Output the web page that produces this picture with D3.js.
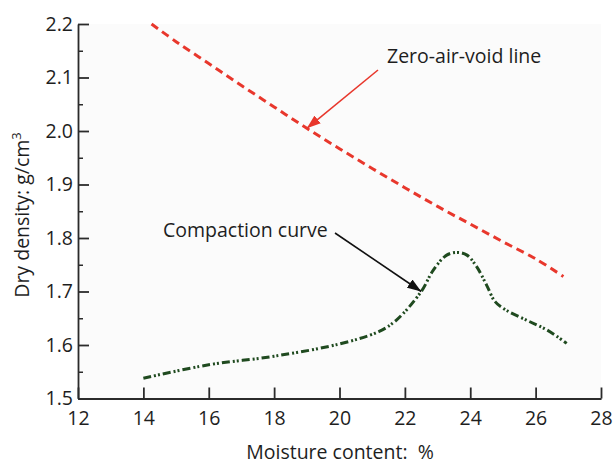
<!DOCTYPE html>
<html>
<head>
<meta charset="utf-8">
<script src="https://cdn.jsdelivr.net/npm/d3@7"></script>
<style>
  html, body { margin: 0; padding: 0; background: #fff; }
  svg { display: block; font-family: "Open Sans", "Noto Sans", sans-serif; }
</style>
</head>
<body>
<svg id="chart" width="614" height="464"></svg>
<script>
// Moisture content (%) vs dry density (g/cm3)
const xTicks = [12, 14, 16, 18, 20, 22, 24, 26, 28];
const yTicks = [1.5, 1.6, 1.7, 1.8, 1.9, 2.0, 2.1, 2.2];
const yMinorTicks = [1.55, 1.65, 1.75, 1.85, 1.95, 2.05, 2.15];

// Zero-air-void line
const zavMoisture = [14.25, 15, 16, 17, 18, 19, 20, 21, 22, 23, 24, 25, 26, 26.85];
const zavDensity  = [2.2, 2.167, 2.126, 2.085, 2.045, 2.005, 1.967, 1.93, 1.894, 1.859, 1.826, 1.793, 1.761, 1.728];

// Compaction curve
const cmpMoisture = [14, 16, 18, 20, 21.2, 21.75, 22.5, 22.87, 23.28, 23.6, 23.9, 24.2, 24.5, 24.76, 25.1, 25.7, 26.35, 26.95];
const cmpDensity  = [1.538, 1.563, 1.579, 1.602, 1.625, 1.647, 1.70, 1.74, 1.768, 1.773, 1.768, 1.746, 1.712, 1.681, 1.665, 1.647, 1.628, 1.603];

const svg = d3.select("#chart");
const plotLeft = 78, plotRight = 601, plotTop = 24, plotBottom = 398.5;

const x = d3.scaleLinear().domain([12, 28]).range([plotLeft, plotRight]);
const y = d3.scaleLinear().domain([1.5, 2.2]).range([plotBottom, plotTop]);

svg.append("rect")
  .attr("x", plotLeft).attr("y", plotTop)
  .attr("width", plotRight - plotLeft).attr("height", plotBottom - plotTop)
  .attr("fill", "#fbfbfb");

const axisColor = "#2b2b2b";
const textColor = "#1e1e1e";
const labelSize = 19.5;

// minor y ticks
svg.append("g")
  .attr("transform", `translate(${plotLeft},0)`)
  .call(d3.axisLeft(y).tickValues(yMinorTicks).tickSize(-5).tickSizeOuter(0).tickFormat(""))
  .call(g => g.select(".domain").remove())
  .call(g => g.selectAll("line").attr("stroke", axisColor).attr("stroke-width", 1.5));

// y axis
svg.append("g")
  .attr("transform", `translate(${plotLeft},0)`)
  .call(d3.axisLeft(y).tickValues(yTicks).tickSize(-11).tickSizeOuter(0).tickPadding(5).tickFormat(d3.format(".1f")))
  .attr("font-size", labelSize).attr("font-family", null)
  .call(g => g.select(".domain").attr("stroke", axisColor).attr("stroke-width", 1.8))
  .call(g => g.selectAll("line").attr("stroke", axisColor).attr("stroke-width", 1.8))
  .call(g => g.selectAll("text").attr("fill", textColor));

// x axis
svg.append("g")
  .attr("transform", `translate(0,${plotBottom})`)
  .call(d3.axisBottom(x).tickValues(xTicks).tickSize(-11).tickSizeOuter(0).tickPadding(13).tickFormat(d3.format("d")))
  .attr("font-size", labelSize).attr("font-family", null)
  .call(g => g.select(".domain").attr("stroke", axisColor).attr("stroke-width", 1.8))
  .call(g => g.selectAll("line").attr("stroke", axisColor).attr("stroke-width", 1.8))
  .call(g => g.selectAll("text").attr("fill", textColor));

// axis titles
svg.append("text")
  .attr("x", 340).attr("y", 459)
  .attr("text-anchor", "middle")
  .attr("font-size", labelSize).attr("fill", textColor)
  .attr("xml:space", "preserve")
  .text("Moisture content:  %");

const yTitle = svg.append("text")
  .attr("transform", "translate(29,215) rotate(-90)")
  .attr("text-anchor", "middle")
  .attr("font-size", labelSize).attr("fill", textColor);
yTitle.append("tspan").text("Dry density: g/cm");
yTitle.append("tspan").attr("dy", -8).attr("font-size", 13).text("3");

const line = d3.line().x(d => x(d[0])).y(d => y(d[1])).curve(d3.curveCatmullRom);

// zero-air-void line
svg.append("path")
  .datum(d3.zip(zavMoisture, zavDensity))
  .attr("fill", "none")
  .attr("stroke", "#e8372c")
  .attr("stroke-width", 3)
  .attr("stroke-dasharray", "8,5")
  .attr("d", line);

// compaction curve
svg.append("path")
  .datum(d3.zip(cmpMoisture, cmpDensity))
  .attr("fill", "none")
  .attr("stroke", "#1f4a1f")
  .attr("stroke-width", 3)
  .attr("stroke-dasharray", "8,3,2,2,2,3")
  .attr("d", line);

// annotation arrows
const defs = svg.append("defs");
function marker(id, color) {
  defs.append("marker")
    .attr("id", id)
    .attr("viewBox", "0 0 14 10")
    .attr("refX", 14).attr("refY", 5)
    .attr("markerWidth", 14).attr("markerHeight", 10)
    .attr("markerUnits", "userSpaceOnUse")
    .attr("orient", "auto")
    .append("path")
    .attr("d", "M0,0 L14,5 L0,10 Z")
    .attr("fill", color);
}
marker("headRed", "#e8372c");
marker("headBlack", "#111");

svg.append("line")
  .attr("x1", 378).attr("y1", 70)
  .attr("x2", x(19)).attr("y2", y(2.005))
  .attr("stroke", "#e8372c").attr("stroke-width", 1.6)
  .attr("marker-end", "url(#headRed)");

svg.append("text")
  .attr("x", 387).attr("y", 63)
  .attr("font-size", labelSize).attr("fill", textColor)
  .text("Zero-air-void line");

svg.append("line")
  .attr("x1", 335).attr("y1", 233)
  .attr("x2", x(22.5)).attr("y2", y(1.70))
  .attr("stroke", "#111").attr("stroke-width", 1.6)
  .attr("marker-end", "url(#headBlack)");

svg.append("text")
  .attr("x", 163).attr("y", 237)
  .attr("font-size", labelSize).attr("fill", textColor)
  .text("Compaction curve");
</script>
</body>
</html>
